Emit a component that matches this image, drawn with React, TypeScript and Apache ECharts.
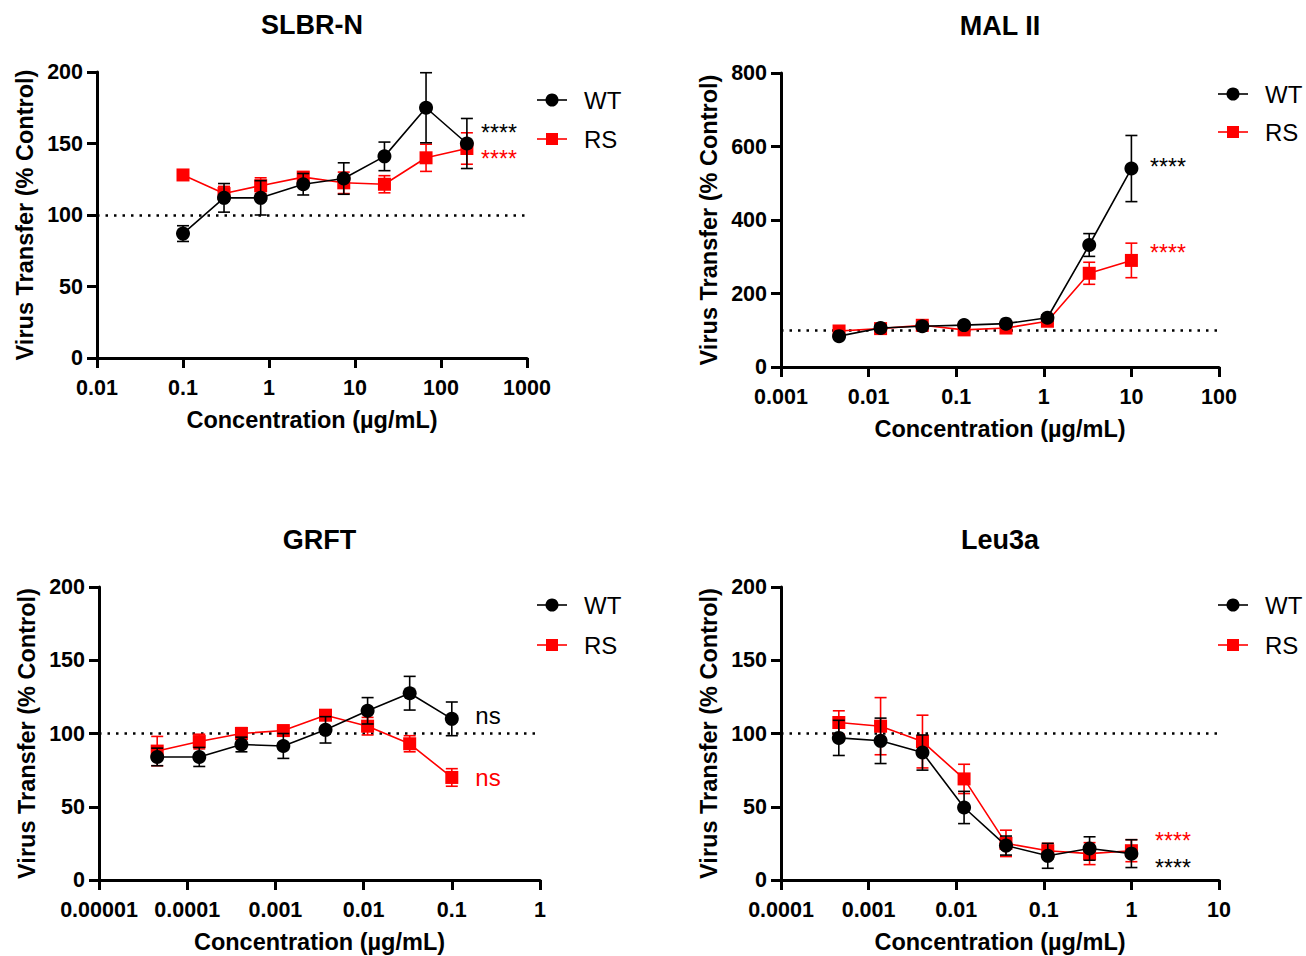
import React, { useEffect, useRef } from "react";
import * as echarts from "echarts";

const FONT = '"Liberation Sans", Arial, Helvetica, sans-serif';
const RED = "#ff0000";
const BLACK = "#000000";

// ---- Data ----
const titles = ["SLBR-N", "MAL II", "GRFT", "Leu3a"];
const seriesNames = ["WT", "RS"];

const slbrConc = [0.1, 0.3, 0.8, 2.5, 7.4, 22, 67, 200];
const slbrWT = [87, 112, 112, 121.5, 125.5, 141, 175, 150];
const slbrWTErr = [5.5, 10, 12, 7.5, 11, 10, 24.5, 17.5];
const slbrRS = [128, 115, 120.5, 126.5, 122.5, 121.5, 140, 146.5];
const slbrRSErr = [3.5, 5, 5.5, 3.5, 7.5, 6, 9.5, 11];

const malConc = [0.0046, 0.0137, 0.041, 0.123, 0.37, 1.1, 3.3, 10];
const malWT = [84, 106, 111, 114, 118, 134, 332, 540];
const malWTErr = [5, 6, 5, 6, 6, 8, 31, 90];
const malRS = [98, 104.5, 113.5, 101, 106, 124.5, 255, 290];
const malRSErr = [5, 6, 6, 5, 5, 6, 30, 47];

const grftConc = [0.0000457, 0.000137, 0.000412, 0.00123, 0.0037, 0.0111, 0.0333, 0.1];
const grftWT = [84, 84, 92.5, 91.5, 102.5, 115.5, 127.5, 110];
const grftWTErr = [6, 6.5, 5, 8.5, 9, 9, 11.5, 11.5];
const grftRS = [88, 94.5, 100, 102, 112.5, 105, 93, 70];
const grftRSErr = [10, 5, 4, 3, 3.5, 6, 5.5, 6];

const leuConc = [0.000457, 0.00137, 0.00412, 0.0123, 0.037, 0.111, 0.333, 1];
const leuWT = [97, 95, 87, 49.5, 23.5, 16.5, 21.5, 18];
const leuWTErr = [12, 15.5, 12, 11, 6.5, 8.5, 8, 9.5];
const leuRS = [107.5, 105, 94.5, 69, 25, 20, 18, 20];
const leuRSErr = [8, 19.5, 18, 10, 9, 5, 7.5, 7.5];

const xMins = [0.01, 0.001, 0.00001, 0.0001];
const xMaxs = [1000, 100, 1, 10];
const yMaxs = [200, 800, 200, 200];
const yIntervals = [50, 200, 50, 50];
const refLine = 100;

const sigWT = ["****", "****", "ns", "****"];
const sigRS = ["****", "****", "ns", "****"];

const xAxisTitle = "Concentration (µg/mL)";
const yAxisTitle = "Virus Transfer (% Control)";

// ---- Layout (pixels) ----
const grids = [
  { left: 97, top: 72, width: 430, height: 286 },
  { left: 781, top: 73, width: 438, height: 294 },
  { left: 99, top: 587, width: 441, height: 293 },
  { left: 781, top: 587, width: 438, height: 293 },
];
const legendPos = [
  { x: 537, yWT: 100, yRS: 139 },
  { x: 1218, yWT: 94, yRS: 132 },
  { x: 537, yWT: 605, yRS: 645 },
  { x: 1218, yWT: 605, yRS: 645 },
];
const sigPos = [
  { x: 499, yWT: 127, yRS: 153, size: 23 },
  { x: 1168, yWT: 161, yRS: 247, size: 23 },
  { x: 488, yWT: 715, yRS: 777, size: 24 },
  { x: 1173, yWT: 862, yRS: 835, size: 23 },
];

const panels = [
  { conc: slbrConc, wt: slbrWT, wtErr: slbrWTErr, rs: slbrRS, rsErr: slbrRSErr },
  { conc: malConc, wt: malWT, wtErr: malWTErr, rs: malRS, rsErr: malRSErr },
  { conc: grftConc, wt: grftWT, wtErr: grftWTErr, rs: grftRS, rsErr: grftRSErr },
  { conc: leuConc, wt: leuWT, wtErr: leuWTErr, rs: leuRS, rsErr: leuRSErr },
];

function fmtLog(v: number) {
  const e = Math.round(Math.log10(v));
  return e < 0 ? Math.pow(10, e).toFixed(-e) : String(Math.round(Math.pow(10, e)));
}

function errRender(color: string) {
  return (params: any, api: any) => {
    const x = api.value(0);
    const lo = api.coord([x, api.value(1)]);
    const hi = api.coord([x, api.value(2)]);
    const w = 6;
    const style = { stroke: color, lineWidth: 1.6 };
    return {
      type: "group",
      children: [
        { type: "line", shape: { x1: lo[0], y1: lo[1], x2: hi[0], y2: hi[1] }, style },
        { type: "line", shape: { x1: hi[0] - w, y1: hi[1], x2: hi[0] + w, y2: hi[1] }, style },
        { type: "line", shape: { x1: lo[0] - w, y1: lo[1], x2: lo[0] + w, y2: lo[1] }, style },
      ],
    };
  };
}

export default function App() {
  const ref = useRef<HTMLDivElement>(null);
  useEffect(() => {
    if (!ref.current) return;
    const chart = echarts.init(ref.current, null, { renderer: "svg" });

    const xAxis = panels.map((_, i) => ({
      type: "log",
      logBase: 10,
      gridIndex: i,
      min: xMins[i],
      max: xMaxs[i],
      name: xAxisTitle,
      nameLocation: "middle",
      nameGap: 50,
      nameTextStyle: { fontFamily: FONT, fontWeight: "bold", fontSize: 23.5, color: BLACK },
      axisLine: { lineStyle: { color: BLACK, width: 3 } },
      axisTick: { show: true, length: 10, lineStyle: { color: BLACK, width: 3 } },
      minorTick: { show: false },
      splitLine: { show: false },
      axisLabel: {
        margin: 19,
        fontFamily: FONT,
        fontWeight: "bold",
        fontSize: 21.5,
        color: BLACK,
        formatter: (v: number) => fmtLog(v),
        showMinLabel: true,
        showMaxLabel: true,
      },
    }));

    const yAxis = panels.map((_, i) => ({
      type: "value",
      gridIndex: i,
      min: 0,
      max: yMaxs[i],
      interval: yIntervals[i],
      name: yAxisTitle,
      nameLocation: "middle",
      nameGap: 60,
      nameTextStyle: { fontFamily: FONT, fontWeight: "bold", fontSize: 23.5, color: BLACK },
      axisLine: { show: true, lineStyle: { color: BLACK, width: 3 } },
      axisTick: { show: true, length: 10, lineStyle: { color: BLACK, width: 3 } },
      splitLine: { show: false },
      axisLabel: {
        margin: 14,
        fontFamily: FONT,
        fontWeight: "bold",
        fontSize: 21.5,
        color: BLACK,
      },
    }));

    const series: any[] = [];
    panels.forEach((p, i) => {
      series.push({
        type: "custom",
        name: "RS",
        xAxisIndex: i,
        yAxisIndex: i,
        renderItem: errRender(RED),
        encode: { x: 0, y: [1, 2] },
        data: p.conc.map((c, j) => [c, p.rs[j] - p.rsErr[j], p.rs[j] + p.rsErr[j]]),
        z: 3,
      });
      series.push({
        type: "line",
        name: "RS",
        xAxisIndex: i,
        yAxisIndex: i,
        data: p.conc.map((c, j) => [c, p.rs[j]]),
        symbol: "rect",
        symbolSize: 13,
        itemStyle: { color: RED },
        lineStyle: { color: RED, width: 1.6 },
        z: 3,
        markLine: {
          silent: true,
          symbol: "none",
          label: { show: false },
          lineStyle: { color: BLACK, type: [2.5, 6], width: 2.5 },
          data: [{ yAxis: refLine }],
          z: 1,
        },
      });
      series.push({
        type: "custom",
        name: "WT",
        xAxisIndex: i,
        yAxisIndex: i,
        renderItem: errRender(BLACK),
        encode: { x: 0, y: [1, 2] },
        data: p.conc.map((c, j) => [c, p.wt[j] - p.wtErr[j], p.wt[j] + p.wtErr[j]]),
        z: 4,
      });
      series.push({
        type: "line",
        name: "WT",
        xAxisIndex: i,
        yAxisIndex: i,
        data: p.conc.map((c, j) => [c, p.wt[j]]),
        symbol: "circle",
        symbolSize: 14,
        itemStyle: { color: BLACK },
        lineStyle: { color: BLACK, width: 1.6 },
        z: 4,
      });
    });

    const graphic: any[] = [];
    grids.forEach((g, i) => {
      graphic.push({
        type: "text",
        x: g.left + g.width / 2,
        y: g.top - 47,
        style: {
          text: titles[i],
          align: "center",
          verticalAlign: "middle",
          fontFamily: FONT,
          fontWeight: "bold",
          fontSize: 27,
          fill: BLACK,
        },
      });
      const lp = legendPos[i];
      graphic.push({ type: "line", shape: { x1: lp.x, y1: lp.yWT, x2: lp.x + 30, y2: lp.yWT }, style: { stroke: BLACK, lineWidth: 1.6 } });
      graphic.push({ type: "circle", shape: { cx: lp.x + 15, cy: lp.yWT, r: 6.5 }, style: { fill: BLACK } });
      graphic.push({
        type: "text",
        x: lp.x + 47,
        y: lp.yWT,
        style: { text: seriesNames[0], align: "left", verticalAlign: "middle", fontFamily: FONT, fontSize: 24, fill: BLACK },
      });
      graphic.push({ type: "line", shape: { x1: lp.x, y1: lp.yRS, x2: lp.x + 30, y2: lp.yRS }, style: { stroke: RED, lineWidth: 1.6 } });
      graphic.push({ type: "rect", shape: { x: lp.x + 9, y: lp.yRS - 6, width: 12, height: 12 }, style: { fill: RED } });
      graphic.push({
        type: "text",
        x: lp.x + 47,
        y: lp.yRS,
        style: { text: seriesNames[1], align: "left", verticalAlign: "middle", fontFamily: FONT, fontSize: 24, fill: BLACK },
      });
      const sp = sigPos[i];
      const isStar = sigWT[i] === "****";
      const dy = isStar ? 5.5 : 0;
      graphic.push({
        type: "text",
        x: sp.x,
        y: sp.yWT + dy,
        style: { text: sigWT[i], align: "center", verticalAlign: "middle", fontFamily: FONT, fontSize: sp.size, fill: BLACK },
      });
      graphic.push({
        type: "text",
        x: sp.x,
        y: sp.yRS + dy,
        style: { text: sigRS[i], align: "center", verticalAlign: "middle", fontFamily: FONT, fontSize: sp.size, fill: RED },
      });
    });

    chart.setOption({
      animation: false,
      backgroundColor: "#ffffff",
      grid: grids.map((g) => ({ ...g, containLabel: false })),
      xAxis,
      yAxis,
      series,
      graphic,
    });
    return () => chart.dispose();
  }, []);
  return (
    <div
      ref={ref}
      style={{ position: "fixed", left: 0, top: 0, width: 1306, height: 956, background: "#fff" }}
    />
  );
}
